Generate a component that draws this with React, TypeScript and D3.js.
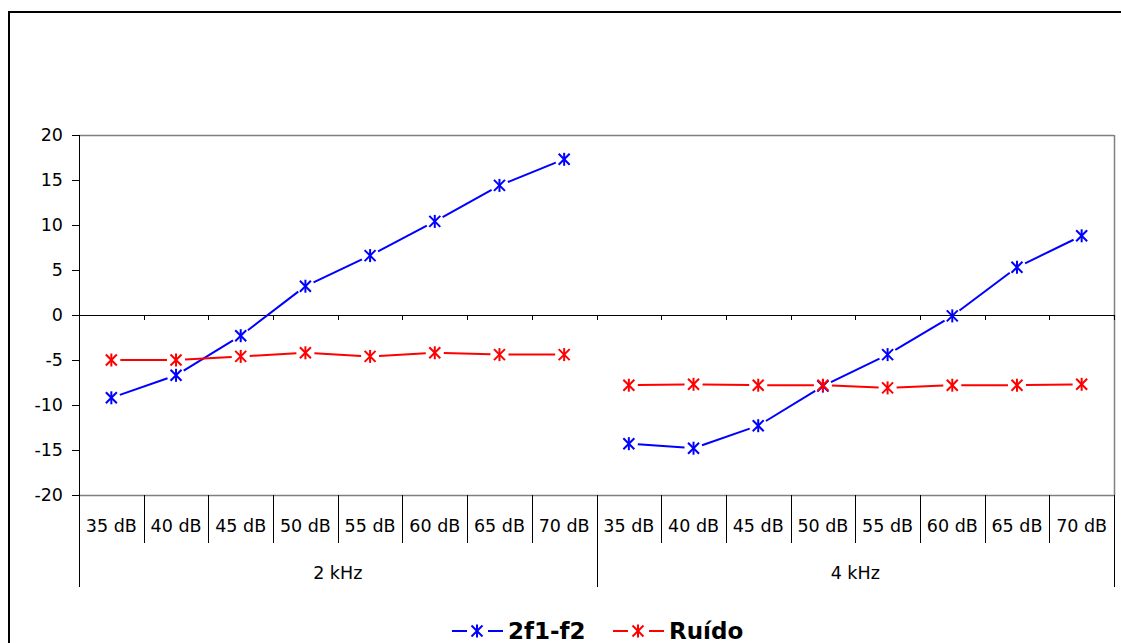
import React from "react";
import * as d3 from "d3";

const groups = ["2 kHz", "4 kHz"];
const levels = ["35 dB", "40 dB", "45 dB", "50 dB", "55 dB", "60 dB", "65 dB", "70 dB"];
const yTicks = [-20, -15, -10, -5, 0, 5, 10, 15, 20];

const dpoae2k = [-9.2, -6.7, -2.3, 3.2, 6.6, 10.4, 14.4, 17.3];
const dpoae4k = [-14.3, -14.8, -12.3, -7.9, -4.4, -0.1, 5.3, 8.8];
const noise2k = [-5.0, -5.0, -4.6, -4.2, -4.6, -4.2, -4.4, -4.4];
const noise4k = [-7.8, -7.7, -7.8, -7.8, -8.1, -7.8, -7.8, -7.7];

const seriesNames = ["2f1-f2", "Ruído"];
const seriesColors = ["#0000ff", "#ff0000"];

const W = 1121;
const H = 643;
const left = 79;
const right = 1114;
const top = 135;
const bottom = 495;
const FONT = "'DejaVu Sans', Verdana, sans-serif";

const keys = groups.flatMap((g) => levels.map((l) => `${g}|${l}`));
const x = d3.scaleBand<string>().domain(keys).range([left, right]).padding(0);
const y = d3.scaleLinear().domain([-20, 20]).range([bottom, top]);

type Pt = [number, number];

function Star({ cx, cy, color }: { cx: number; cy: number; color: string }) {
  const s = 5.5;
  return (
    <g stroke={color} strokeWidth={2}>
      <line x1={cx - s} y1={cy - s} x2={cx + s} y2={cy + s} />
      <line x1={cx - s} y1={cy + s} x2={cx + s} y2={cy - s} />
      <line x1={cx} y1={cy - s - 1} x2={cx} y2={cy + s + 1} />
    </g>
  );
}

function Series({ pts, color }: { pts: Pt[]; color: string }) {
  const gap = 9;
  const segs: string[] = [];
  for (let i = 0; i < pts.length - 1; i++) {
    const [x1, y1] = pts[i];
    const [x2, y2] = pts[i + 1];
    const dx = x2 - x1;
    const dy = y2 - y1;
    const len = Math.hypot(dx, dy);
    if (len <= gap * 2) continue;
    const ux = dx / len;
    const uy = dy / len;
    const line = d3.line();
    segs.push(
      line([
        [x1 + ux * gap, y1 + uy * gap],
        [x2 - ux * gap, y2 - uy * gap],
      ]) as string
    );
  }
  return (
    <g>
      {segs.map((d, i) => (
        <path key={i} d={d} stroke={color} strokeWidth={2} fill="none" />
      ))}
      {pts.map(([px, py], i) => (
        <Star key={i} cx={px} cy={py} color={color} />
      ))}
    </g>
  );
}

export default function App() {
  const bw = x.bandwidth();
  const cx = (g: string, l: string) => (x(`${g}|${l}`) as number) + bw / 2;
  const mk = (g: string, vals: number[]): Pt[] =>
    levels.map((l, i) => [cx(g, l), y(vals[i])]);

  const series = [
    [mk(groups[0], dpoae2k), mk(groups[1], dpoae4k)],
    [mk(groups[0], noise2k), mk(groups[1], noise4k)],
  ];

  const boundaries = keys.map((k) => x(k) as number).concat([right]);
  const groupBounds = [left, x(`${groups[1]}|${levels[0]}`) as number, right];

  return (
    <div style={{ position: "absolute", left: 0, top: 0 }}>
      <svg width={W} height={H} style={{ display: "block", background: "#fff" }}>
        <rect x={0} y={0} width={W} height={H} fill="#fff" />
        {/* outer frame */}
        <rect x={9} y={12} width={W + 20} height={H + 20} fill="none" stroke="#000" strokeWidth={2} />

        {/* plot border */}
        <line x1={left} y1={top + 0.5} x2={right} y2={top + 0.5} stroke="#808080" strokeWidth={1.5} />
        <line x1={right + 0.5} y1={top} x2={right + 0.5} y2={bottom} stroke="#808080" strokeWidth={1.5} />
        <line x1={left} y1={bottom + 0.5} x2={right} y2={bottom + 0.5} stroke="#808080" strokeWidth={1.5} />

        {/* y axis */}
        <line x1={left + 0.5} y1={top} x2={left + 0.5} y2={587} stroke="#000" strokeWidth={1} />
        {yTicks.map((t) => (
          <g key={t}>
            <line x1={left - 7} x2={left} y1={Math.round(y(t)) + 0.5} y2={Math.round(y(t)) + 0.5} stroke="#000" />
            <text
              x={63}
              y={y(t)}
              dy="0.36em"
              textAnchor="end"
              fontFamily={FONT}
              fontSize={17.5}
              fill="#000"
            >
              {t}
            </text>
          </g>
        ))}

        {/* zero line with ticks */}
        <line x1={left} y1={y(0) + 0.5} x2={right} y2={y(0) + 0.5} stroke="#000" strokeWidth={1} />
        {boundaries.map((b, i) => (
          <line key={i} x1={Math.round(b) + 0.5} x2={Math.round(b) + 0.5} y1={y(0)} y2={y(0) + 5} stroke="#000" />
        ))}

        {/* category separators */}
        {boundaries.slice(1, -1).map((b, i) => (
          <line key={i} x1={Math.round(b) + 0.5} x2={Math.round(b) + 0.5} y1={bottom} y2={543} stroke="#000" />
        ))}
        {groupBounds.slice(1).map((b, i) => (
          <line key={i} x1={Math.round(b) + 0.5} x2={Math.round(b) + 0.5} y1={bottom} y2={587} stroke="#000" />
        ))}

        {/* category labels */}
        {keys.map((k) => {
          const [, l] = k.split("|");
          return (
            <text
              key={k}
              x={(x(k) as number) + bw / 2}
              y={526}
              dy="0.36em"
              textAnchor="middle"
              fontFamily={FONT}
              fontSize={17.5}
              fill="#000"
            >
              {l}
            </text>
          );
        })}
        {groups.map((g, i) => (
          <text
            key={g}
            x={(groupBounds[i] + groupBounds[i + 1]) / 2}
            y={573}
            dy="0.36em"
            textAnchor="middle"
            fontFamily={FONT}
            fontSize={17.5}
            fill="#000"
          >
            {g}
          </text>
        ))}

        {/* series */}
        {series.map((parts, si) =>
          parts.map((pts, pi) => <Series key={`${si}-${pi}`} pts={pts} color={seriesColors[si]} />)
        )}

        {/* legend */}
        {seriesNames.map((name, i) => {
          const lx = [452, 613][i];
          const ly = 631;
          const c = seriesColors[i];
          return (
            <g key={name}>
              <line x1={lx} x2={lx + 15} y1={ly} y2={ly} stroke={c} strokeWidth={2} />
              <Star cx={lx + 25} cy={ly} color={c} />
              <line x1={lx + 36} x2={lx + 51} y1={ly} y2={ly} stroke={c} strokeWidth={2} />
              <text
                x={lx + 56}
                y={ly}
                dy="0.36em"
                fontFamily={FONT}
                fontWeight="bold"
                fontSize={23}
                fill="#000"
              >
                {name}
              </text>
            </g>
          );
        })}
      </svg>
    </div>
  );
}
